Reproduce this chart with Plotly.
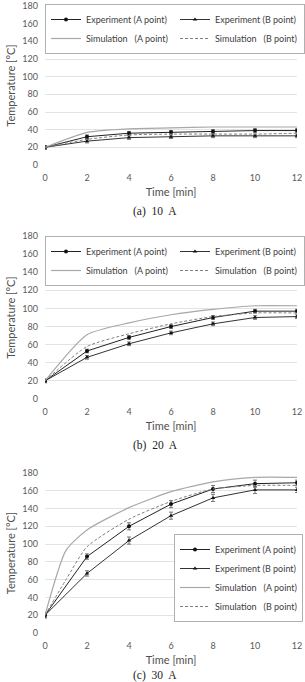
import plotly.graph_objects as go

W, H = 305, 682

# ---------------- data ----------------
t_exp = [0, 2, 4, 6, 8, 10, 12]

# (a) 10 A
a_expA = [20, 32, 36, 37, 38, 39, 39]
a_expB = [20, 27, 31, 32, 33, 33, 33]
a_err = [2, 2, 2, 2, 2, 2, 2]
a_t_sim = [0, 2, 4, 6, 8, 10, 12]
a_simA = [20, 37, 41, 42, 43, 43, 43]
a_simB = [20, 29, 34, 35, 35, 35, 36]

# (b) 20 A
b_expA = [20, 53, 68, 80, 90, 97, 97]
b_expB = [20, 46, 61, 73, 83, 90, 91]
b_err = [2, 2, 2, 2, 2, 2, 2]
b_t_sim = [0, 2, 4, 6, 8, 10, 12]
b_simA = [20, 71, 84, 93, 99, 103, 103]
b_simB = [20, 58, 72, 83, 91, 95, 95]

# (c) 30 A
c_expA = [20, 86, 120, 145, 162, 168, 169]
c_expB = [20, 67, 104, 132, 152, 161, 161]
c_err = [3, 3, 4, 4, 4, 4, 3]
c_t_sim = [0, 1, 2, 4, 6, 8, 10, 12]
c_simA = [20, 93, 116, 141, 159, 170, 175, 175]
c_simB = [20, 60, 97, 128, 148, 162, 166, 166]

names = ["Experiment (A point)", "Experiment (B point)",
         "Simulation\u00a0\u00a0\u00a0(A point)", "Simulation\u00a0\u00a0\u00a0(B point)"]
captions = ["(a)\u00a0 10\u00a0 A", "(b)\u00a0 20\u00a0 A", "(c)\u00a0 30\u00a0 A"]
x_ticks = [0, 2, 4, 6, 8, 10, 12]
y_ticks = [0, 20, 40, 60, 80, 100, 120, 140, 160, 180]

panels = [
    (a_expA, a_expB, a_err, a_t_sim, a_simA, a_simB),
    (b_expA, b_expB, b_err, b_t_sim, b_simA, b_simB),
    (c_expA, c_expB, c_err, c_t_sim, c_simA, c_simB),
]

# ---------------- layout geometry (pixels) ----------------
def py(px):
    return 1 - px / H

y_dom_px = [(6, 165), (236, 399), (473, 633)]
x_dom = [45 / W, 297 / W]
caption_px = [212, 445, 675]

FONT = "Lato, Carlito, 'Liberation Sans', sans-serif"
fig = go.Figure()

legend_names = ["legend", "legend2", "legend3"]

for i, (eA, eB, err, ts, sA, sB) in enumerate(panels):
    xa = "x" if i == 0 else f"x{i+1}"
    ya = "y" if i == 0 else f"y{i+1}"
    lg = legend_names[i]
    fig.add_trace(go.Scatter(
        x=t_exp, y=eA, name=names[0], mode="lines+markers", xaxis=xa, yaxis=ya, legend=lg,
        line=dict(color="#222222", width=1), marker=dict(symbol="circle", size=4, color="#111111"),
        error_y=dict(type="data", array=err, color="#555555", thickness=0.8, width=2)))
    fig.add_trace(go.Scatter(
        x=t_exp, y=eB, name=names[1], mode="lines+markers", xaxis=xa, yaxis=ya, legend=lg,
        line=dict(color="#333333", width=1), marker=dict(symbol="triangle-up", size=4, color="#111111"),
        error_y=dict(type="data", array=err, color="#555555", thickness=0.8, width=2)))
    fig.add_trace(go.Scatter(
        x=ts, y=sA, name=names[2], mode="lines", xaxis=xa, yaxis=ya, legend=lg,
        line=dict(color="#a8a8a8", width=1.2, shape="spline", smoothing=0.6)))
    fig.add_trace(go.Scatter(
        x=ts, y=sB, name=names[3], mode="lines", xaxis=xa, yaxis=ya, legend=lg,
        line=dict(color="#808080", width=1, dash="3px,2px", shape="spline", smoothing=0.6)))

layout = dict(
    width=W, height=H, margin=dict(l=0, r=0, t=0, b=0, autoexpand=False),
    paper_bgcolor="white", plot_bgcolor="white",
    font=dict(family=FONT, size=9, color="#595959"),
    showlegend=True,
)

for i in range(3):
    sx = "" if i == 0 else str(i + 1)
    top, bot = y_dom_px[i]
    layout[f"xaxis{sx}"] = dict(
        domain=x_dom, anchor=f"y{sx}", range=[0, 12], tickvals=x_ticks,
        showgrid=False, zeroline=False, showline=False, ticks="",
        ticklabelstandoff=6,
        tickfont=dict(size=9, color="#595959"),
        title=dict(text="Time [min]", font=dict(size=11, color="#505050"), standoff=6),
        automargin=False, fixedrange=True)
    layout[f"yaxis{sx}"] = dict(
        domain=[py(bot), py(top)], anchor=f"x{sx}", range=[0, 180], tickvals=y_ticks,
        showgrid=True, gridcolor="#e3e3e3", gridwidth=1, zeroline=False, showline=False, ticks="",
        ticklabelstandoff=6,
        tickfont=dict(size=9, color="#595959"),
        title=dict(text="Temperature [°C]", font=dict(size=11, color="#505050"), standoff=4),
        automargin=False, fixedrange=True)

leg_common = dict(
    bgcolor="white", bordercolor="#b0b0b0", borderwidth=1,
    font=dict(family=FONT, size=9, color="#404040"),
    itemwidth=30, tracegroupgap=0,
)
layout["legend"] = dict(leg_common, orientation="h", x=1, xanchor="right",
                        y=py(4), yanchor="top", entrywidth=84, entrywidthmode="pixels")
layout["legend2"] = dict(leg_common, orientation="h", x=1, xanchor="right",
                         y=py(236), yanchor="top", entrywidth=84, entrywidthmode="pixels")
layout["legend3"] = dict(leg_common, orientation="v", x=174 / W, xanchor="left",
                         y=py(534), yanchor="top")

annotations = []
for i in range(3):
    annotations.append(dict(
        text=captions[i], xref="paper", yref="paper", x=155 / W, y=py(caption_px[i]),
        xanchor="center", yanchor="middle", showarrow=False,
        font=dict(family="'Liberation Serif', 'DejaVu Serif', serif", size=11.5, color="#222222")))
layout["annotations"] = annotations

fig.update_layout(**layout)
fig.write_html("out.html")
